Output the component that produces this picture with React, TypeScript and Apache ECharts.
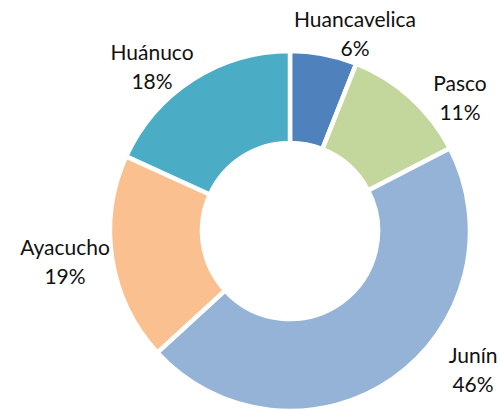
import React, { useEffect, useRef } from 'react';
import * as echarts from 'echarts';

const regions = ['Huancavelica', 'Pasco', 'Junín', 'Ayacucho', 'Huánuco'];
const shares = [6.0, 11.4, 45.8, 18.6, 18.2];
const colors = ['#4f81bd', '#c3d69b', '#95b3d7', '#fac090', '#4bacc6'];

// label block centres (px), same order as regions
const labelPos: [number, number][] = [
  [355, 33],
  [460, 97],
  [473, 369],
  [65, 261],
  [152, 66],
];

export default function App() {
  const ref = useRef<HTMLDivElement | null>(null);

  useEffect(() => {
    if (!ref.current) return;
    document.body.style.margin = '0';
    const chart = echarts.init(ref.current, undefined, { renderer: 'svg' });
    chart.setOption({
      animation: false,
      backgroundColor: '#fff',
      series: [
        {
          type: 'pie',
          center: [290, 231],
          radius: [88, 180],
          startAngle: 90,
          clockwise: true,
          avoidLabelOverlap: false,
          itemStyle: { borderColor: '#fff', borderWidth: 4.5 },
          label: {
            show: true,
            position: 'outside',
            formatter: (p: any) => `${p.name}\n${Math.round(p.value)}%`,
            fontFamily: 'Lato',
            fontSize: 21,
            lineHeight: 29,
            color: '#111',
          },
          labelLine: { show: false },
          labelLayout: (p: any) => {
            const [x, y] = labelPos[p.dataIndex];
            return { x, y, align: 'center', verticalAlign: 'middle' };
          },
          emphasis: { disabled: true },
          data: regions.map((name, i) => ({
            name,
            value: shares[i],
            itemStyle: { color: colors[i] },
          })),
        },
      ],
    });
    return () => { chart.dispose(); };
  }, []);

  return <div ref={ref} style={{ width: 500, height: 410 }} />;
}
